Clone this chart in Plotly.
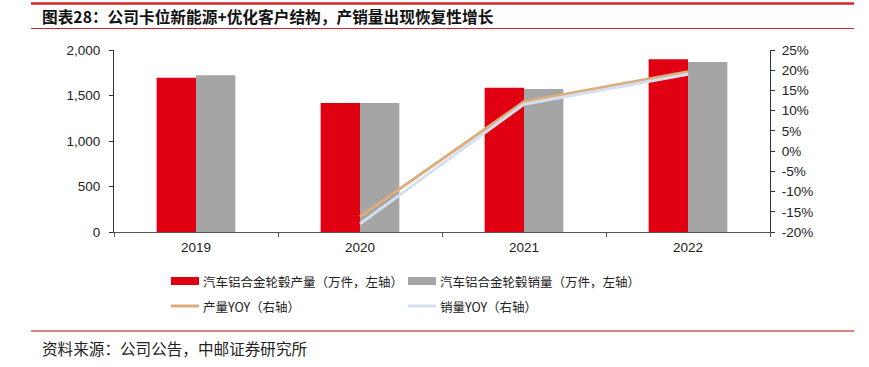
import plotly.graph_objects as go

years = ["2019", "2020", "2021", "2022"]
production = [1696, 1418, 1586, 1898]
sales = [1722, 1418, 1572, 1868]
prod_yoy = [None, -16.2, 12.2, 19.6]
sales_yoy = [None, -18.0, 11.6, 19.0]

left_ticks = [0, 500, 1000, 1500, 2000]
left_labels = ["0", "500", "1,000", "1,500", "2,000"]
right_ticks = [-20, -15, -10, -5, 0, 5, 10, 15, 20, 25]
right_labels = [f"{v}%" for v in right_ticks]

name_prod = "汽车铝合金轮毂产量（万件，左轴）"
name_sales = "汽车铝合金轮毂销量（万件，左轴）"
name_prod_yoy = "产量YOY（右轴）"
name_sales_yoy = "销量YOY（右轴）"
title_text = "图表28：公司卡位新能源+优化客户结构，产销量出现恢复性增长"
source_text = "资料来源：公司公告，中邮证券研究所"

W, H = 869, 367
L, R, T, B = 114, 770, 50, 232

def px(x):
    return (x - L) / (R - L)

def py(y):
    return (B - y) / (B - T)

fig = go.Figure()
fig.add_trace(go.Bar(x=years, y=production, name=name_prod, marker_color="#E00012",
                     marker_line_width=0, yaxis="y"))
fig.add_trace(go.Bar(x=years, y=sales, name=name_sales, marker_color="#A5A5A5",
                     marker_line_width=0, yaxis="y"))
fig.add_trace(go.Scatter(x=years, y=prod_yoy, name=name_prod_yoy, mode="lines",
                         line=dict(color="#DDAE7C", width=3), yaxis="y2"))
fig.add_trace(go.Scatter(x=years, y=sales_yoy, name=name_sales_yoy, mode="lines",
                         line=dict(color="#D6DFF0", width=3), yaxis="y2"))

axis_font = dict(family="Liberation Sans, Arial, sans-serif", size=13.5, color="#222222")

fig.update_layout(
    width=W, height=H,
    margin=dict(l=L, r=W - R, t=T, b=H - B, pad=0),
    paper_bgcolor="white", plot_bgcolor="white",
    barmode="group", bargap=0.52, bargroupgap=0,
    showlegend=False,
    font=dict(family="Noto Sans CJK SC, sans-serif", size=12, color="#222222"),
    xaxis=dict(type="category", showline=True, linecolor="#555555", linewidth=1,
               ticks="outside", tickson="boundaries", ticklen=4, tickcolor="#555555",
               tickfont=axis_font, showgrid=False, zeroline=False, ticklabelstandoff=3),
    yaxis=dict(range=[0, 2000], tickvals=left_ticks, ticktext=left_labels,
               showline=True, linecolor="#333333", linewidth=1, ticks="outside",
               ticklen=4, tickcolor="#333333", tickfont=axis_font, showgrid=False,
               zeroline=False, ticklabelstandoff=6),
    yaxis2=dict(range=[-20, 25], tickvals=right_ticks, ticktext=right_labels,
                overlaying="y", side="right", showline=True, linecolor="#333333",
                linewidth=1, ticks="outside", ticklen=4, tickcolor="#333333",
                tickfont=axis_font, showgrid=False, zeroline=False, ticklabelstandoff=4),
)

# Title and decorative rules
fig.add_shape(type="line", xref="paper", yref="paper", x0=px(31), x1=px(854),
              y0=py(3.5), y1=py(3.5), line=dict(color="#D9232E", width=2.5))
fig.add_shape(type="line", xref="paper", yref="paper", x0=px(31), x1=px(854),
              y0=py(28.5), y1=py(28.5), line=dict(color="#D9232E", width=1.2))
fig.add_shape(type="line", xref="paper", yref="paper", x0=px(31), x1=px(854),
              y0=py(331), y1=py(331), line=dict(color="#D05A5A", width=1.5))
fig.add_annotation(text="<b>" + title_text + "</b>", xref="paper", yref="paper",
                   x=px(40), y=py(16), xanchor="left", yanchor="middle", showarrow=False,
                   font=dict(family="Noto Sans CJK SC", size=15.7, color="#111111"))
fig.add_annotation(text=source_text, xref="paper", yref="paper",
                   x=px(40), y=py(348), xanchor="left", yanchor="middle", showarrow=False,
                   font=dict(family="Noto Sans CJK SC", size=15.6, color="#222222"))

# Manual legend built with shapes + text
legend_items = [
    (name_prod, "bar", "#E00012", 171, 281),
    (name_sales, "bar", "#A5A5A5", 408, 281),
    (name_prod_yoy, "line", "#DDAE7C", 171, 306),
    (name_sales_yoy, "line", "#D6DFF0", 408, 306),
]
for text, kind, color, x0, yc in legend_items:
    if kind == "bar":
        fig.add_shape(type="rect", xref="paper", yref="paper", x0=px(x0), x1=px(x0 + 28),
                      y0=py(yc + 4), y1=py(yc - 4), fillcolor=color, line_width=0)
    else:
        fig.add_shape(type="line", xref="paper", yref="paper", x0=px(x0), x1=px(x0 + 28),
                      y0=py(yc), y1=py(yc), line=dict(color=color, width=3))
    fig.add_annotation(text=text, xref="paper", yref="paper", x=px(x0 + 30), y=py(yc),
                       xanchor="left", yanchor="middle", showarrow=False,
                       font=dict(family="Noto Sans CJK SC", size=12.5, color="#222222"))

fig.write_html("out.html", config={"displayModeBar": False},
               post_script="document.body.style.margin='0px';")
